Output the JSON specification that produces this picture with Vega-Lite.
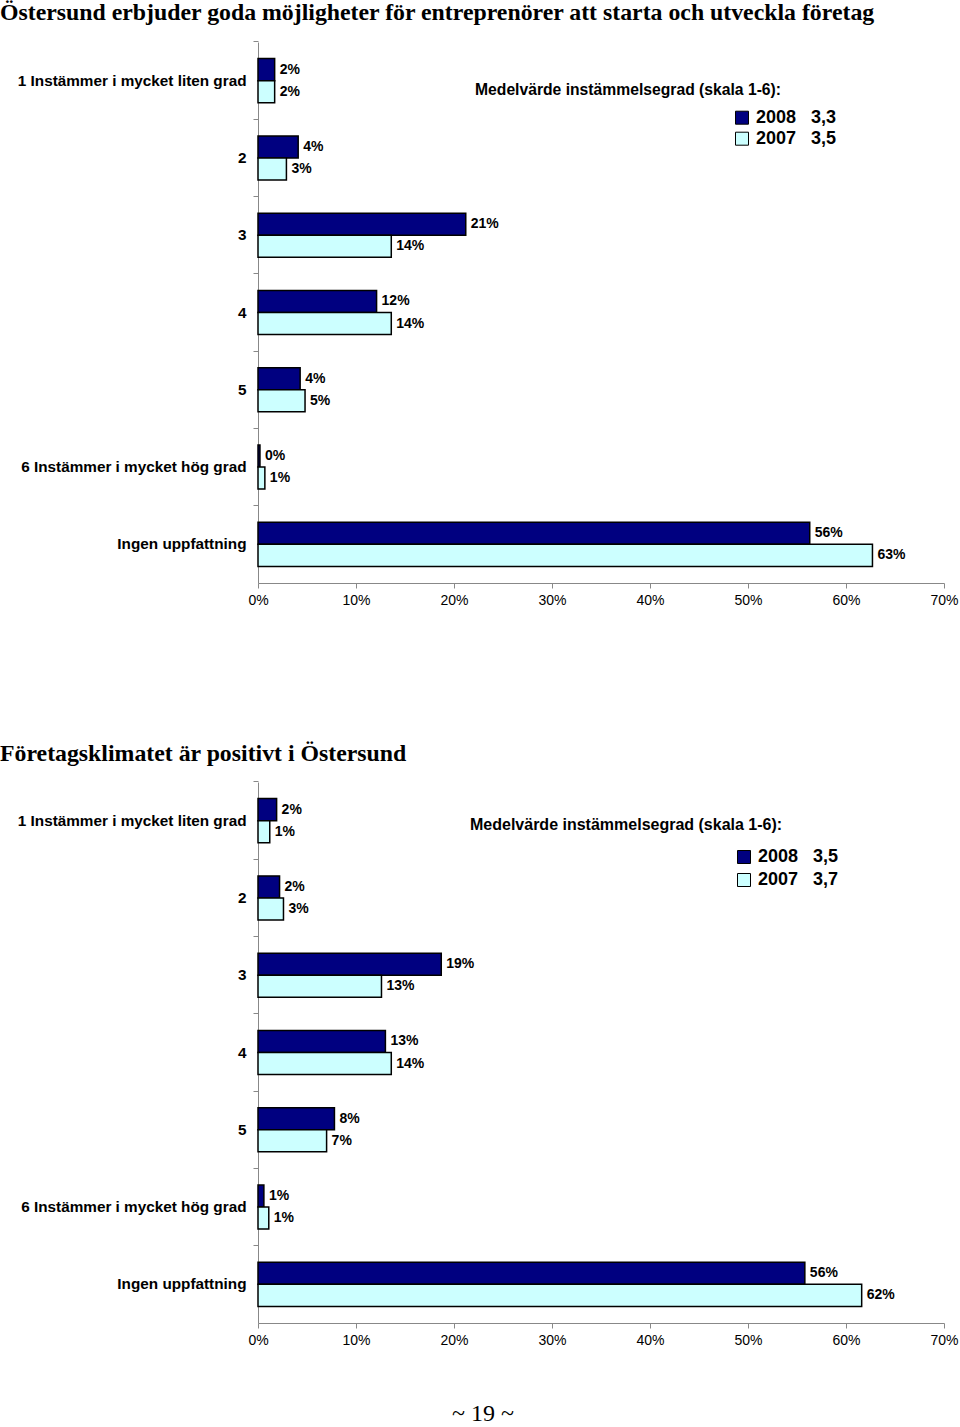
{
  "$schema": "https://vega.github.io/schema/vega-lite/v6.json",
  "padding": 0,
  "background": "white",
  "autosize": {"type": "pad"},
  "spacing": 134,
  "config": {
    "view": {"stroke": null},
    "font": "Liberation Sans",
    "axis": {"domainColor": "#888888", "tickColor": "#888888", "tickSize": 5, "labelColor": "black", "title": null, "grid": false}
  },
  "resolve": {"scale": {"color": "independent"}, "legend": {"color": "independent"}},
  "title": {"text": "~ 19 ~", "orient": "bottom", "anchor": "middle", "font": "Liberation Serif", "fontSize": 24, "fontWeight": "normal", "color": "black", "offset": 55, "dx": 4},
  "vconcat": [
    {
      "title": {"text": "Östersund erbjuder goda möjligheter för entreprenörer att starta och utveckla företag", "anchor": "start", "frame": "group", "dx": -258, "font": "Liberation Serif", "fontSize": 23.8, "fontWeight": "bold", "color": "black", "offset": 16},
      "width": 686,
      "height": 541,
      "data": {"values": [
        {"cat": "1 Instämmer i mycket liten grad", "year": "2008", "value": 0.017},
        {"cat": "1 Instämmer i mycket liten grad", "year": "2007", "value": 0.017},
        {"cat": "2", "year": "2008", "value": 0.041},
        {"cat": "2", "year": "2007", "value": 0.029},
        {"cat": "3", "year": "2008", "value": 0.212},
        {"cat": "3", "year": "2007", "value": 0.136},
        {"cat": "4", "year": "2008", "value": 0.121},
        {"cat": "4", "year": "2007", "value": 0.136},
        {"cat": "5", "year": "2008", "value": 0.043},
        {"cat": "5", "year": "2007", "value": 0.048},
        {"cat": "6 Instämmer i mycket hög grad", "year": "2008", "value": 0.002},
        {"cat": "6 Instämmer i mycket hög grad", "year": "2007", "value": 0.007},
        {"cat": "Ingen uppfattning", "year": "2008", "value": 0.563},
        {"cat": "Ingen uppfattning", "year": "2007", "value": 0.627}
      ]},
      "encoding": {
        "y": {"field": "cat", "type": "nominal", "sort": null,
          "scale": {"paddingInner": 0.43, "paddingOuter": 0.215},
          "axis": {"bandPosition": -0.378, "labelFontSize": 15.3, "labelFontWeight": "bold", "labelPadding": 7, "labelLimit": 400}},
        "yOffset": {"field": "year", "type": "nominal", "sort": ["2008", "2007"], "scale": {"paddingInner": 0, "paddingOuter": 0}},
        "x": {"field": "value", "type": "quantitative",
          "scale": {"domain": [0, 0.7], "nice": false},
          "axis": {"format": ".0%", "values": [0, 0.1, 0.2, 0.3, 0.4, 0.5, 0.6, 0.7], "labelFontSize": 14, "labelPadding": 5, "labelFlush": false}}
      },
      "layer": [
        {
          "mark": {"type": "bar", "stroke": "black", "strokeWidth": 1.5},
          "encoding": {
            "color": {"field": "year", "type": "nominal",
              "scale": {"domain": ["2008", "2007"], "range": ["#000080", "#CCFFFF"]},
              "legend": {"orient": "none", "legendX": 217, "legendY": 41, "direction": "vertical",
                "title": "Medelvärde instämmelsegrad (skala 1-6):", "titleFontSize": 15.7, "titleFontWeight": "bold", "titleColor": "black", "titlePadding": 10, "titleLimit": 500,
                "symbolType": "square", "symbolSize": 169, "symbolStrokeColor": "black", "symbolStrokeWidth": 1, "symbolOffset": 258,
                "labelFontSize": 18, "labelFontWeight": "bold", "labelColor": "black", "labelOffset": 5, "rowPadding": 3, "padding": 0,
                "labelExpr": "datum.label === '2008' ? '2008\u00a0\u00a0\u00a03,3' : '2007\u00a0\u00a0\u00a03,5'"}}
          }
        },
        {
          "mark": {"type": "text", "align": "left", "baseline": "middle", "dx": 5, "fontSize": 14, "fontWeight": "bold", "color": "black"},
          "encoding": {"text": {"field": "value", "type": "quantitative", "format": ".0%"}}
        }
      ]
    },
    {
      "title": {"text": "Företagsklimatet är positivt i Östersund", "anchor": "start", "frame": "group", "dx": -258, "font": "Liberation Serif", "fontSize": 23.8, "fontWeight": "bold", "color": "black", "offset": 15},
      "width": 686,
      "height": 541,
      "data": {"values": [
        {"cat": "1 Instämmer i mycket liten grad", "year": "2008", "value": 0.019},
        {"cat": "1 Instämmer i mycket liten grad", "year": "2007", "value": 0.012},
        {"cat": "2", "year": "2008", "value": 0.022},
        {"cat": "2", "year": "2007", "value": 0.026},
        {"cat": "3", "year": "2008", "value": 0.187},
        {"cat": "3", "year": "2007", "value": 0.126},
        {"cat": "4", "year": "2008", "value": 0.130},
        {"cat": "4", "year": "2007", "value": 0.136},
        {"cat": "5", "year": "2008", "value": 0.078},
        {"cat": "5", "year": "2007", "value": 0.070},
        {"cat": "6 Instämmer i mycket hög grad", "year": "2008", "value": 0.006},
        {"cat": "6 Instämmer i mycket hög grad", "year": "2007", "value": 0.011},
        {"cat": "Ingen uppfattning", "year": "2008", "value": 0.558},
        {"cat": "Ingen uppfattning", "year": "2007", "value": 0.616}
      ]},
      "encoding": {
        "y": {"field": "cat", "type": "nominal", "sort": null,
          "scale": {"paddingInner": 0.43, "paddingOuter": 0.215},
          "axis": {"bandPosition": -0.378, "labelFontSize": 15.3, "labelFontWeight": "bold", "labelPadding": 7, "labelLimit": 400}},
        "yOffset": {"field": "year", "type": "nominal", "sort": ["2008", "2007"], "scale": {"paddingInner": 0, "paddingOuter": 0}},
        "x": {"field": "value", "type": "quantitative",
          "scale": {"domain": [0, 0.7], "nice": false},
          "axis": {"format": ".0%", "values": [0, 0.1, 0.2, 0.3, 0.4, 0.5, 0.6, 0.7], "labelFontSize": 14, "labelPadding": 5, "labelFlush": false}}
      },
      "layer": [
        {
          "mark": {"type": "bar", "stroke": "black", "strokeWidth": 1.5},
          "encoding": {
            "color": {"field": "year", "type": "nominal",
              "scale": {"domain": ["2008", "2007"], "range": ["#000080", "#CCFFFF"]},
              "legend": {"orient": "none", "legendX": 212, "legendY": 35, "direction": "vertical",
                "title": "Medelvärde instämmelsegrad (skala 1-6):", "titleFontSize": 16, "titleFontWeight": "bold", "titleColor": "black", "titlePadding": 15, "titleLimit": 500,
                "symbolType": "square", "symbolSize": 169, "symbolStrokeColor": "black", "symbolStrokeWidth": 1, "symbolOffset": 265,
                "labelFontSize": 18, "labelFontWeight": "bold", "labelColor": "black", "labelOffset": 5, "rowPadding": 5, "padding": 0,
                "labelExpr": "datum.label === '2008' ? '2008\u00a0\u00a0\u00a03,5' : '2007\u00a0\u00a0\u00a03,7'"}}
          }
        },
        {
          "mark": {"type": "text", "align": "left", "baseline": "middle", "dx": 5, "fontSize": 14, "fontWeight": "bold", "color": "black"},
          "encoding": {"text": {"field": "value", "type": "quantitative", "format": ".0%"}}
        }
      ]
    }
  ]
}
